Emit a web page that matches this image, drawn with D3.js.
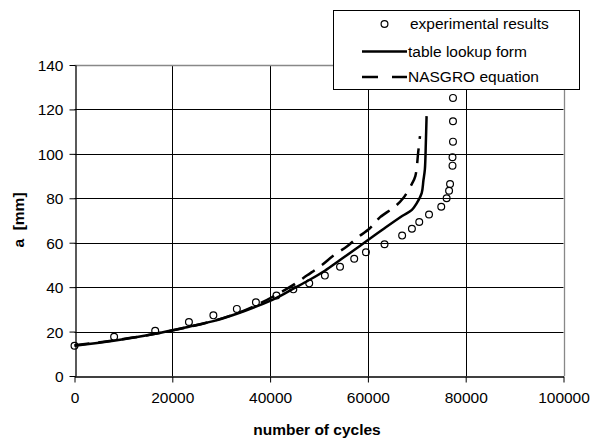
<!DOCTYPE html>
<html>
<head>
<meta charset="utf-8">
<script src="https://cdn.jsdelivr.net/npm/d3@7"></script>
<style>
  html, body { margin: 0; padding: 0; background: #fff; }
  svg { display: block; font-family: "Liberation Sans", Arial, sans-serif; }
</style>
</head>
<body>
<svg id="chart" width="592" height="441"></svg>
<script>
// Crack length a [mm] versus number of load cycles
const xTicks = [0, 20000, 40000, 60000, 80000, 100000];
const yTicks = [0, 20, 40, 60, 80, 100, 120, 140];

// experimental results: [cycles, a]
const experimental = [
  [0, 13.6], [8100, 17.7], [16500, 20.4], [23400, 24.3], [28400, 27.3],
  [33200, 30.2], [37100, 33.2], [41300, 36.2], [44750, 39.0], [48000, 41.7],
  [51200, 45.2], [54300, 49.2], [57200, 52.8], [59600, 55.7], [63400, 59.3],
  [67000, 63.2], [69000, 66.3], [70500, 69.3], [72500, 72.7], [75000, 76.2],
  [76100, 80.0], [76600, 83.4], [76800, 86.4], [77300, 94.7], [77300, 98.5],
  [77400, 105.5], [77400, 114.7], [77400, 125.2]
];

// table lookup form prediction
const tableLookup = [
  [0, 13.6], [8000, 15.9], [16500, 19.0], [23400, 22.2], [28400, 24.7],
  [33200, 28.0], [37100, 31.2], [41300, 35.2], [44750, 39.3], [48000, 43.2],
  [51200, 47.4], [54300, 52.2], [57200, 56.7], [59600, 60.5], [63400, 66.5],
  [67000, 72.0], [69000, 74.8], [70000, 77.8], [71000, 82.3], [71350, 88.0],
  [71650, 93.0], [71850, 105.0], [72000, 117.0]
];

// NASGRO equation prediction
const nasgro = [
  [0, 13.8], [8000, 16.0], [16500, 19.0], [23400, 22.1], [28400, 24.8],
  [33200, 28.2], [37100, 31.8], [41000, 36.2], [44750, 41.0], [47500, 45.2],
  [50500, 49.8], [53000, 54.3], [55700, 58.3], [57700, 62.0], [60400, 66.5],
  [62500, 71.5], [65500, 76.2], [67200, 80.0], [69000, 86.5], [69700, 90.0],
  [70300, 101.0], [70650, 108.0]
];

const legendItems = ["experimental results", "table lookup form", "NASGRO equation"];

const svg = d3.select("#chart");
const plotLeft = 74.5, plotRight = 563.5, plotTop = 65, plotBottom = 376;

const x = d3.scaleLinear().domain([0, 100000]).range([plotLeft, plotRight]);
const y = d3.scaleLinear().domain([0, 140]).range([plotBottom, plotTop]);

// horizontal gridlines
svg.append("g").selectAll("line")
  .data(yTicks.filter(v => v > 0 && v < 140))
  .join("line")
  .attr("x1", plotLeft).attr("x2", plotRight)
  .attr("y1", d => Math.round(y(d)) + 0.5).attr("y2", d => Math.round(y(d)) + 0.5)
  .attr("stroke", "#000").attr("stroke-width", 1);

// vertical gridlines
svg.append("g").selectAll("line")
  .data(xTicks.filter(v => v > 0 && v < 100000))
  .join("line")
  .attr("x1", d => Math.round(x(d)) + 0.5).attr("x2", d => Math.round(x(d)) + 0.5)
  .attr("y1", plotTop).attr("y2", plotBottom)
  .attr("stroke", "#000").attr("stroke-width", 1);

// plot area border (top and right)
svg.append("path")
  .attr("d", `M${plotLeft},${Math.round(y(140)) + 0.5}H${Math.round(x(100000)) + 0.5}V${plotBottom}`)
  .attr("fill", "none").attr("stroke", "#888").attr("stroke-width", 1.3);

// axes
const yAxis = d3.axisLeft(y).tickValues(yTicks).tickSize(6).tickSizeOuter(0).tickPadding(6)
  .tickFormat(d3.format("d"));
const gy = svg.append("g").attr("transform", `translate(${Math.round(plotLeft) + 0.5},0)`).call(yAxis);

const xAxis = d3.axisBottom(x).tickValues(xTicks).tickSize(6).tickSizeOuter(0).tickPadding(9)
  .tickFormat(d3.format("d"));
const gx = svg.append("g").attr("transform", `translate(0,${Math.round(plotBottom) + 0.5})`).call(xAxis);

[gx, gy].forEach(g => {
  g.select(".domain").attr("stroke", "#000").attr("stroke-width", 1.3);
  g.selectAll(".tick line").attr("stroke", "#000");
  g.selectAll(".tick text")
    .attr("fill", "#000")
    .style("font-size", "15.5px")
    .style("font-family", "'Liberation Sans', Arial, sans-serif");
});
gy.selectAll(".tick text").attr("dy", "0.35em");

// axis titles
svg.append("text")
  .attr("x", 317).attr("y", 435)
  .attr("text-anchor", "middle")
  .style("font-size", "15.5px").style("font-weight", "bold")
  .text("number of cycles");

svg.append("text")
  .attr("transform", "translate(24,220) rotate(-90)")
  .attr("text-anchor", "middle")
  .style("font-size", "15.5px").style("font-weight", "bold")
  .style("white-space", "pre")
  .text("a  [mm]");

// prediction curves
const line = d3.line().x(d => x(d[0])).y(d => y(d[1])).curve(d3.curveCatmullRom.alpha(0.5));

svg.append("path")
  .datum(nasgro)
  .attr("d", line)
  .attr("fill", "none").attr("stroke", "#000")
  .attr("stroke-width", 2.5).attr("stroke-dasharray", "15,9");

svg.append("path")
  .datum(tableLookup)
  .attr("d", line)
  .attr("fill", "none").attr("stroke", "#000")
  .attr("stroke-width", 2.5);

// experimental markers
svg.append("g").selectAll("circle")
  .data(experimental)
  .join("circle")
  .attr("cx", d => x(d[0])).attr("cy", d => y(d[1]))
  .attr("r", 3.4)
  .attr("fill", "none").attr("stroke", "#000").attr("stroke-width", 1.2);

// legend
const lg = svg.append("g");
lg.append("rect")
  .attr("x", 333.5).attr("y", 10.5).attr("width", 246).attr("height", 79)
  .attr("fill", "#fff").attr("stroke", "#000").attr("stroke-width", 1);

const rowY = [24, 51.5, 77];
lg.append("circle").attr("cx", 384.5).attr("cy", rowY[0]).attr("r", 3.4)
  .attr("fill", "none").attr("stroke", "#000").attr("stroke-width", 1.2);
lg.append("line").attr("x1", 362).attr("x2", 407).attr("y1", rowY[1]).attr("y2", rowY[1])
  .attr("stroke", "#000").attr("stroke-width", 2.5);
lg.append("line").attr("x1", 362).attr("x2", 407).attr("y1", rowY[2]).attr("y2", rowY[2])
  .attr("stroke", "#000").attr("stroke-width", 2.5).attr("stroke-dasharray", "16,14");

lg.selectAll("text")
  .data(legendItems)
  .join("text")
  .attr("x", (d, i) => i === 0 ? 410 : 408)
  .attr("y", (d, i) => rowY[i])
  .attr("dy", "0.35em")
  .style("font-size", "15.5px")
  .text(d => d);
</script>
</body>
</html>
